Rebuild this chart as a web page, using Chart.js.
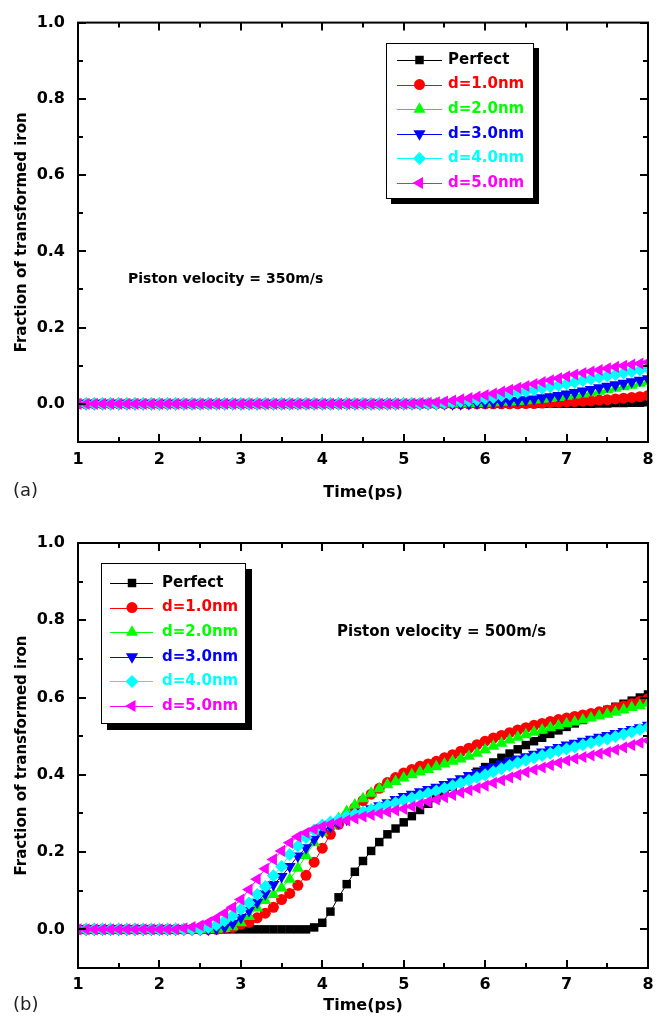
<!DOCTYPE html>
<html>
<head>
<meta charset="utf-8">
<script src="https://cdn.jsdelivr.net/npm/chart.js@4.4.1/dist/chart.umd.min.js"></script>
<style>
  body { margin: 0; background: #fff; }
  canvas { display: block; }
</style>
</head>
<body>
<canvas id="chartA" width="663" height="512"></canvas>
<canvas id="chartB" width="663" height="513"></canvas>
<script>
// time axis (ps), one sample every 0.1 ps
const times = [
  1.0, 1.1, 1.2, 1.3, 1.4, 1.5, 1.6, 1.7, 1.8, 1.9,
  2.0, 2.1, 2.2, 2.3, 2.4, 2.5, 2.6, 2.7, 2.8, 2.9,
  3.0, 3.1, 3.2, 3.3, 3.4, 3.5, 3.6, 3.7, 3.8, 3.9,
  4.0, 4.1, 4.2, 4.3, 4.4, 4.5, 4.6, 4.7, 4.8, 4.9,
  5.0, 5.1, 5.2, 5.3, 5.4, 5.5, 5.6, 5.7, 5.8, 5.9,
  6.0, 6.1, 6.2, 6.3, 6.4, 6.5, 6.6, 6.7, 6.8, 6.9,
  7.0, 7.1, 7.2, 7.3, 7.4, 7.5, 7.6, 7.7, 7.8, 7.9,
  8.0
];

const seriesNames = ['Perfect', 'd=1.0nm', 'd=2.0nm', 'd=3.0nm', 'd=4.0nm', 'd=5.0nm'];
const seriesColors = ['#000000', '#ff0000', '#00ff00', '#0000ff', '#00ffff', '#ff00ff'];

const xTicks = [1, 2, 3, 4, 5, 6, 7, 8];
const xMinorTicks = [1.5, 2.5, 3.5, 4.5, 5.5, 6.5, 7.5];
const yTicks = [0, 0.2, 0.4, 0.6, 0.8, 1.0];
const yMinorTicks = [0.1, 0.3, 0.5, 0.7, 0.9];

// (a) piston velocity 350 m/s
const perfect350 = [
  0, 0, 0, 0, 0, 0, 0, 0, 0, 0,
  0, 0, 0, 0, 0, 0, 0, 0, 0, 0,
  0, 0, 0, 0, 0, 0, 0, 0, 0, 0,
  0, 0, 0, 0, 0, 0, 0, 0, 0, 0,
  0, 0, 0, 0, 0, 0, 0, 0, 0, 0,
  0, 0, 0, 0, 0, 0, 0, 0, 0, 0,
  0, 0, 0, 0, 0.001, 0.001, 0.002, 0.002, 0.003, 0.003,
  0.004
];
const d1_350 = [
  0, 0, 0, 0, 0, 0, 0, 0, 0, 0,
  0, 0, 0, 0, 0, 0, 0, 0, 0, 0,
  0, 0, 0, 0, 0, 0, 0, 0, 0, 0,
  0, 0, 0, 0, 0, 0, 0, 0, 0, 0,
  0, 0, 0, 0, 0, 0, 0, 0, 0, 0,
  0, 0, 0, 0, 0, 0.001, 0.001, 0.002, 0.003, 0.004,
  0.005, 0.006, 0.007, 0.008, 0.010, 0.011, 0.013, 0.015, 0.017, 0.019,
  0.022
];
const d2_350 = [
  0, 0, 0, 0, 0, 0, 0, 0, 0, 0,
  0, 0, 0, 0, 0, 0, 0, 0, 0, 0,
  0, 0, 0, 0, 0, 0, 0, 0, 0, 0,
  0, 0, 0, 0, 0, 0, 0, 0, 0, 0,
  0, 0, 0, 0, 0, 0, 0, 0, 0, 0.001,
  0.002, 0.003, 0.004, 0.005, 0.006, 0.008, 0.010, 0.012, 0.014, 0.017,
  0.020, 0.023, 0.026, 0.029, 0.033, 0.037, 0.041, 0.045, 0.049, 0.054,
  0.059
];
const d3_350 = [
  0, 0, 0, 0, 0, 0, 0, 0, 0, 0,
  0, 0, 0, 0, 0, 0, 0, 0, 0, 0,
  0, 0, 0, 0, 0, 0, 0, 0, 0, 0,
  0, 0, 0, 0, 0, 0, 0, 0, 0, 0,
  0, 0, 0, 0, 0, 0, 0, 0, 0.001, 0.002,
  0.003, 0.004, 0.005, 0.007, 0.009, 0.011, 0.013, 0.016, 0.019, 0.022,
  0.026, 0.030, 0.034, 0.038, 0.042, 0.046, 0.050, 0.054, 0.058, 0.062,
  0.066
];
const d4_350 = [
  0, 0, 0, 0, 0, 0, 0, 0, 0, 0,
  0, 0, 0, 0, 0, 0, 0, 0, 0, 0,
  0, 0, 0, 0, 0, 0, 0, 0, 0, 0,
  0, 0, 0, 0, 0, 0, 0, 0, 0, 0,
  0, 0, 0, 0, 0, 0.002, 0.004, 0.006, 0.008, 0.011,
  0.014, 0.017, 0.021, 0.025, 0.029, 0.033, 0.037, 0.041, 0.045, 0.049,
  0.053, 0.057, 0.061, 0.065, 0.069, 0.073, 0.077, 0.081, 0.085, 0.089,
  0.093
];
const d5_350 = [
  0, 0, 0, 0, 0, 0, 0, 0, 0, 0,
  0, 0, 0, 0, 0, 0, 0, 0, 0, 0,
  0, 0, 0, 0, 0, 0, 0, 0, 0, 0,
  0, 0, 0, 0, 0, 0, 0, 0, 0, 0,
  0, 0.001, 0.002, 0.003, 0.004, 0.006, 0.009, 0.012, 0.015, 0.019,
  0.023, 0.027, 0.032, 0.037, 0.042, 0.047, 0.052, 0.057, 0.062, 0.067,
  0.072, 0.077, 0.081, 0.085, 0.089, 0.093, 0.097, 0.100, 0.103, 0.106,
  0.109
];

// (b) piston velocity 500 m/s
const perfect500 = [
  0, 0, 0, 0, 0, 0, 0, 0, 0, 0,
  0, 0, 0, 0, 0, 0, 0, 0, 0, 0,
  0, 0, 0, 0, 0, 0, 0, 0, 0, 0.005,
  0.017, 0.046, 0.083, 0.117, 0.149, 0.177, 0.203, 0.226, 0.246, 0.261,
  0.277, 0.293, 0.309, 0.325, 0.340, 0.355, 0.369, 0.383, 0.396, 0.408,
  0.420, 0.432, 0.444, 0.455, 0.466, 0.477, 0.487, 0.496, 0.506, 0.515,
  0.524, 0.533, 0.542, 0.551, 0.559, 0.568, 0.576, 0.584, 0.592, 0.600,
  0.608
];
const d1_500 = [
  0, 0, 0, 0, 0, 0, 0, 0, 0, 0,
  0, 0, 0, 0, 0, 0, 0, 0, 0.002, 0.005,
  0.013, 0.018, 0.030, 0.042, 0.057, 0.077, 0.093, 0.114, 0.140, 0.174,
  0.210, 0.246, 0.272, 0.295, 0.315, 0.333, 0.350, 0.365, 0.380, 0.393,
  0.405, 0.414, 0.422, 0.428, 0.435, 0.444, 0.452, 0.461, 0.469, 0.478,
  0.487, 0.495, 0.502, 0.509, 0.516, 0.522, 0.528, 0.533, 0.538, 0.543,
  0.547, 0.551, 0.555, 0.559, 0.563, 0.567, 0.573, 0.578, 0.584, 0.590,
  0.597
];
const d2_500 = [
  0, 0, 0, 0, 0, 0, 0, 0, 0, 0,
  0, 0, 0, 0, 0, 0, 0, 0, 0.002, 0.007,
  0.017, 0.033, 0.055, 0.075, 0.090, 0.107, 0.130, 0.158, 0.191, 0.224,
  0.250, 0.268, 0.287, 0.305, 0.322, 0.338, 0.352, 0.364, 0.374, 0.383,
  0.392, 0.400, 0.407, 0.414, 0.421, 0.428, 0.435, 0.441, 0.448, 0.456,
  0.465, 0.474, 0.482, 0.490, 0.497, 0.504, 0.510, 0.516, 0.522, 0.527,
  0.532, 0.537, 0.542, 0.547, 0.552, 0.557, 0.562, 0.568, 0.574, 0.579,
  0.585
];
const d3_500 = [
  0, 0, 0, 0, 0, 0, 0, 0, 0, 0,
  0, 0, 0, 0, 0, 0, 0, 0.002, 0.006, 0.016,
  0.031, 0.049, 0.070, 0.092, 0.116, 0.137, 0.163, 0.190, 0.211, 0.233,
  0.253, 0.266, 0.276, 0.285, 0.294, 0.303, 0.312, 0.320, 0.328, 0.336,
  0.344, 0.350, 0.356, 0.362, 0.368, 0.375, 0.382, 0.390, 0.398, 0.406,
  0.414, 0.421, 0.428, 0.435, 0.441, 0.447, 0.453, 0.459, 0.465, 0.471,
  0.477, 0.482, 0.487, 0.492, 0.497, 0.502, 0.507, 0.512, 0.517, 0.522,
  0.528
];
const d4_500 = [
  0, 0, 0, 0, 0, 0, 0, 0, 0, 0,
  0, 0, 0, 0, 0, 0, 0.005, 0.011, 0.022, 0.035,
  0.052, 0.068, 0.090, 0.111, 0.139, 0.163, 0.194, 0.216, 0.238, 0.257,
  0.270, 0.278, 0.285, 0.292, 0.298, 0.304, 0.310, 0.316, 0.322, 0.328,
  0.334, 0.340, 0.346, 0.352, 0.358, 0.365, 0.372, 0.379, 0.386, 0.393,
  0.400, 0.408, 0.416, 0.424, 0.431, 0.438, 0.444, 0.450, 0.456, 0.462,
  0.467, 0.472, 0.478, 0.483, 0.488, 0.493, 0.499, 0.505, 0.511, 0.517,
  0.523
];
const d5_500 = [
  0, 0, 0, 0, 0, 0, 0, 0, 0, 0,
  0, 0, 0, 0.003, 0.006, 0.010, 0.018, 0.029, 0.042, 0.057,
  0.077, 0.103, 0.130, 0.157, 0.181, 0.203, 0.224, 0.240, 0.250, 0.259,
  0.266, 0.272, 0.277, 0.282, 0.287, 0.292, 0.296, 0.300, 0.304, 0.308,
  0.312, 0.318, 0.324, 0.330, 0.336, 0.342, 0.348, 0.354, 0.360, 0.366,
  0.372, 0.379, 0.386, 0.393, 0.400, 0.407, 0.413, 0.419, 0.425, 0.431,
  0.437, 0.442, 0.446, 0.450, 0.455, 0.459, 0.465, 0.471, 0.477, 0.483,
  0.489
];

const markers = [
  { style: 'rect', r: 6, rot: 0 },
  { style: 'circle', r: 5.5, rot: 0 },
  { style: 'triangle', r: 7, rot: 0 },
  { style: 'triangle', r: 7, rot: 180 },
  { style: 'rectRot', r: 6.5, rot: 0 },
  { style: 'triangle', r: 7, rot: -90 }
];

Chart.defaults.font.family = '"DejaVu Sans", sans-serif';
Chart.defaults.color = '#000';

function drawMarker(ctx, m, x, y, color) {
  ctx.save();
  ctx.fillStyle = color;
  ctx.beginPath();
  if (m.style === 'rect') {
    const s = m.r * Math.SQRT1_2;
    ctx.rect(x - s, y - s, 2 * s, 2 * s);
  } else if (m.style === 'circle') {
    ctx.arc(x, y, m.r, 0, Math.PI * 2);
  } else if (m.style === 'rectRot') {
    ctx.moveTo(x, y - m.r);
    ctx.lineTo(x + m.r, y);
    ctx.lineTo(x, y + m.r);
    ctx.lineTo(x - m.r, y);
  } else {
    const rad = m.rot * Math.PI / 180;
    for (let k = 0; k < 3; k++) {
      const a = rad + k * 2 * Math.PI / 3;
      const px = x + Math.sin(a) * m.r, py = y - Math.cos(a) * m.r;
      if (k === 0) ctx.moveTo(px, py); else ctx.lineTo(px, py);
    }
  }
  ctx.closePath();
  ctx.fill();
  ctx.restore();
}

const framePlugin = {
  id: 'frame',
  afterDatasetsDraw(chart) {
    const { ctx, chartArea: a, scales: { x, y } } = chart;
    ctx.save();
    ctx.strokeStyle = '#000';
    ctx.lineWidth = 2;
    ctx.beginPath();
    const vTick = (v, len) => {
      const px = Math.round(x.getPixelForValue(v));
      ctx.moveTo(px, a.bottom); ctx.lineTo(px, a.bottom - len);
      ctx.moveTo(px, a.top); ctx.lineTo(px, a.top + len);
    };
    const hTick = (v, len) => {
      const py = Math.round(y.getPixelForValue(v));
      ctx.moveTo(a.left, py); ctx.lineTo(a.left + len, py);
      ctx.moveTo(a.right, py); ctx.lineTo(a.right - len, py);
    };
    xTicks.forEach(v => vTick(v, 8));
    xMinorTicks.forEach(v => vTick(v, 5));
    yTicks.forEach(v => hTick(v, 8));
    yMinorTicks.forEach(v => hTick(v, 5));
    ctx.stroke();
    ctx.strokeRect(a.left, a.top, a.right - a.left, a.bottom - a.top);
    ctx.restore();
  },
  afterDraw(chart, args, opts) {
    const ctx = chart.ctx;
    const lg = opts.legend;
    ctx.save();
    // legend box with drop shadow
    ctx.fillStyle = '#000';
    ctx.fillRect(lg.x + lg.shadow, lg.y + lg.shadow, lg.w, lg.h);
    ctx.fillStyle = '#fff';
    ctx.fillRect(lg.x, lg.y, lg.w, lg.h);
    ctx.strokeStyle = '#000';
    ctx.lineWidth = 1;
    ctx.strokeRect(lg.x + 0.5, lg.y + 0.5, lg.w - 1, lg.h - 1);
    ctx.font = 'bold 15px "DejaVu Sans"';
    ctx.textBaseline = 'middle';
    ctx.textAlign = 'left';
    seriesNames.forEach((name, i) => {
      const ry = lg.rowY + i * lg.rowGap;
      ctx.strokeStyle = seriesColors[i];
      ctx.beginPath();
      ctx.moveTo(lg.lineX0, Math.round(ry) + 0.5);
      ctx.lineTo(lg.lineX1, Math.round(ry) + 0.5);
      ctx.stroke();
      drawMarker(ctx, markers[i], lg.markX, ry, seriesColors[i]);
      ctx.fillStyle = seriesColors[i];
      ctx.fillText(name, lg.textX, ry);
    });
    // velocity note
    const n = opts.note;
    ctx.fillStyle = '#000';
    ctx.font = 'bold ' + n.size + 'px "DejaVu Sans"';
    ctx.fillText(n.text, n.x, n.y);
    // panel label
    const p = opts.panel;
    ctx.fillStyle = '#222';
    ctx.font = '18px "DejaVu Sans"';
    ctx.fillText(p.text, p.x, p.y);
    ctx.restore();
  }
};

function makeDatasets(lists) {
  return lists.map((vals, i) => ({
    label: seriesNames[i],
    data: times.map((t, k) => ({ x: t, y: vals[k] })),
    borderColor: seriesColors[i],
    backgroundColor: seriesColors[i],
    pointBackgroundColor: seriesColors[i],
    pointBorderWidth: 0,
    pointStyle: markers[i].style,
    pointRadius: markers[i].r,
    pointHoverRadius: markers[i].r,
    pointRotation: markers[i].rot,
    borderWidth: 1,
    tension: 0,
    order: 5 - i
  }));
}

function makeOptions(cfg) {
  return {
    responsive: false,
    animation: false,
    devicePixelRatio: 1,
    layout: { padding: { left: 0, right: 15, top: cfg.top, bottom: 0 } },
    plugins: {
      legend: { display: false },
      tooltip: { enabled: false },
      frame: { legend: cfg.legend, note: cfg.note, panel: cfg.panel }
    },
    scales: {
      x: {
        type: 'linear',
        min: 1, max: 8,
        grid: { display: false, drawTicks: false },
        border: { display: false },
        afterBuildTicks: s => { s.ticks = xTicks.map(v => ({ value: v })); },
        afterFit: s => { s.height = cfg.xHeight; },
        ticks: { padding: cfg.xPad, font: { size: 16, weight: 'bold' }, callback: v => String(v) },
        title: { display: true, text: 'Time(ps)', font: { size: 16, weight: 'bold' }, padding: { top: 0, bottom: 10 } }
      },
      y: {
        min: -0.1, max: 1.0,
        grid: { display: false, drawTicks: false },
        border: { display: false },
        afterBuildTicks: s => { s.ticks = yTicks.map(v => ({ value: v })); },
        afterFit: s => { s.width = 78; },
        ticks: { padding: 13, font: { size: 16, weight: 'bold' }, callback: v => v.toFixed(1) },
        title: { display: true, text: 'Fraction of transformed iron', font: { size: 15, weight: 'bold' }, padding: { top: 13, bottom: 0 } }
      }
    }
  };
}

new Chart(document.getElementById('chartA'), {
  type: 'line',
  data: { datasets: makeDatasets([perfect350, d1_350, d2_350, d3_350, d4_350, d5_350]) },
  options: makeOptions({
    top: 16, xHeight: 70, xPad: 8,
    legend: { x: 386, y: 43, w: 148, h: 156, shadow: 5, rowY: 60, rowGap: 24.6, lineX0: 397, lineX1: 442, markX: 419.5, textX: 448 },
    note: { text: 'Piston velocity = 350m/s', x: 128, y: 279, size: 14 },
    panel: { text: '(a)', x: 13, y: 491 }
  }),
  plugins: [framePlugin]
});

new Chart(document.getElementById('chartB'), {
  type: 'line',
  data: { datasets: makeDatasets([perfect500, d1_500, d2_500, d3_500, d4_500, d5_500]) },
  options: makeOptions({
    top: 31, xHeight: 57, xPad: 7,
    legend: { x: 101, y: 51, w: 145, h: 161, shadow: 6, rowY: 71, rowGap: 24.6, lineX0: 110, lineX1: 153, markX: 132, textX: 162 },
    note: { text: 'Piston velocity = 500m/s', x: 337, y: 120, size: 15 },
    panel: { text: '(b)', x: 13, y: 493 }
  }),
  plugins: [framePlugin]
});
</script>
</body>
</html>
